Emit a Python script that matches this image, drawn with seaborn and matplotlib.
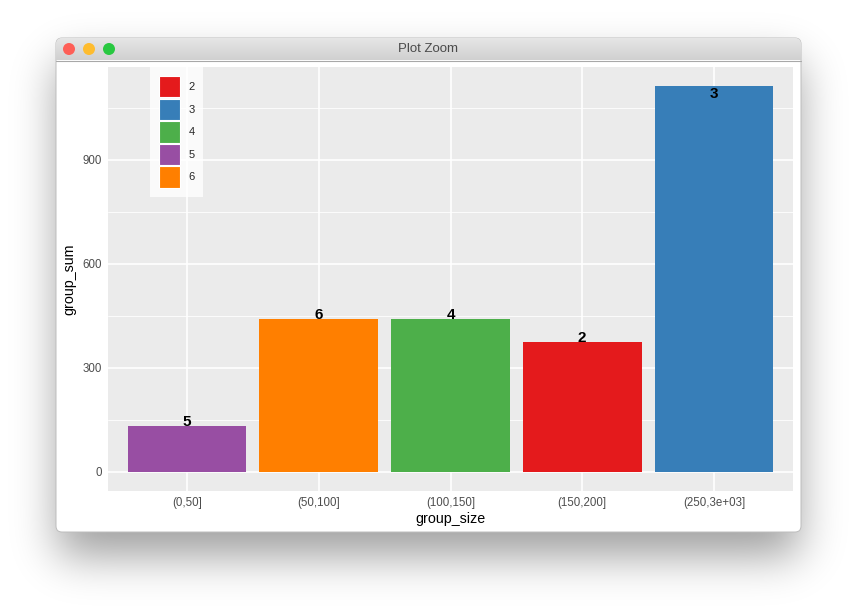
import numpy as np
import pandas as pd
import matplotlib
matplotlib.use("Agg")
import matplotlib.pyplot as plt
from matplotlib.colors import LinearSegmentedColormap
from matplotlib.patches import FancyBboxPatch, Circle, Patch
import seaborn as sns

# data
group_size = ["(0,50]", "(50,100]", "(100,150]", "(150,200]", "(250,3e+03]"]
group_sum = [133, 441, 441, 375, 1112]
group_id = ["5", "6", "4", "2", "3"]
label_y = [133, 441, 441, 375, 1078]

legend_ids = ["2", "3", "4", "5", "6"]
set1 = ["#E41A1C", "#377EB8", "#4DAF4A", "#984EA3", "#FF7F00"]
palette = dict(zip(legend_ids, set1))

df = pd.DataFrame({"group_size": group_size, "group_sum": group_sum, "id": group_id})

sns.set_theme(style="white")
plt.rcParams["font.family"] = ["Liberation Sans", "DejaVu Sans"]

W, H = 857, 607
fig = plt.figure(figsize=(W / 100, H / 100), dpi=100)
fig.patch.set_facecolor("white")

# ---- macOS window frame ----
bg = fig.add_axes([0, 0, 1, 1])
bg.set_xlim(0, W)
bg.set_ylim(H, 0)
bg.axis("off")

wx0, wy0, ww, wh = 56, 38, 745, 494

# soft drop shadow: blurred rectangle
mask = np.zeros((H, W))
mask[wy0 + 24:wy0 + wh + 24, wx0 + 2:wx0 + ww - 2] = 1.0
sigma = 22
k = np.exp(-0.5 * (np.arange(-3 * sigma, 3 * sigma + 1) / sigma) ** 2)
k /= k.sum()
blur = np.apply_along_axis(lambda r: np.convolve(r, k, mode="same"), 1, mask)
blur = np.apply_along_axis(lambda c: np.convolve(c, k, mode="same"), 0, blur)
shadow = np.zeros((H, W, 4))
shadow[..., 3] = blur * 0.38
bg.imshow(shadow, extent=(0, W, H, 0), aspect="auto", zorder=0, interpolation="bilinear")

win = FancyBboxPatch((wx0, wy0), ww, wh, boxstyle="round,pad=0,rounding_size=6",
                     fc="white", ec="#BDBDBD", lw=0.7, zorder=1)
bg.add_patch(win)
grad = np.linspace(0, 1, 50).reshape(-1, 1)
img = bg.imshow(grad, extent=(wx0, wx0 + ww, 60, wy0),
                cmap=LinearSegmentedColormap.from_list("tb", ["#E6E6E6", "#D0D0D0"]),
                aspect="auto", zorder=2)
img.set_clip_path(win)
bg.plot([wx0, wx0 + ww], [60.5, 60.5], color="#A8A8A8", lw=0.8, zorder=3)
for cx, c in zip([69, 89, 109], ["#FE5F57", "#FEBC2E", "#28C840"]):
    bg.add_patch(Circle((cx, 49), 6, fc=c, ec="none", zorder=4))
bg.text(428, 49, "Plot Zoom", ha="center", va="center", fontsize=9.5, color="#4A4A4A", zorder=4)

# ---- the plot ----
ax = fig.add_axes([108 / W, 1 - 491 / H, 685 / W, 424 / H])
sns.barplot(data=df, x="group_size", y="group_sum", hue="id", hue_order=legend_ids,
            palette=palette, dodge=False, width=0.9, saturation=1, legend=False,
            linewidth=0, ax=ax, zorder=3)

for i, (lbl, y) in enumerate(zip(group_id, label_y)):
    ax.text(i, y, lbl, ha="center", va="baseline", fontsize=11, fontweight="bold",
            color="black", zorder=5)

ax.set_facecolor("#EBEBEB")
for s in ax.spines.values():
    s.set_visible(False)
ax.set_xlim(-0.6, 4.6)
ax.set_ylim(-55.6, 1167.6)
ax.set_yticks([0, 300, 600, 900])
ax.set_yticks([150, 450, 750, 1050], minor=True)
ax.grid(True, which="major", color="white", lw=1.2, zorder=0)
ax.grid(True, which="minor", axis="y", color="white", lw=0.6, zorder=0)
ax.set_axisbelow(True)
ax.tick_params(axis="both", which="major", length=2.5, width=0.8, color="#333333",
               labelsize=8.3, labelcolor="#4D4D4D", pad=2)
ax.tick_params(axis="y", which="minor", length=0)
ax.set_xlabel("group_size", fontsize=10.3, color="black", labelpad=2)
ax.set_ylabel("group_sum", fontsize=10.3, color="black", labelpad=4)

handles = [Patch(fc=palette[k], ec="white", lw=0.8) for k in legend_ids]
leg = ax.legend(handles, legend_ids, loc="upper left", bbox_to_anchor=(42 / 685, 1.0),
                borderaxespad=0, frameon=True, fancybox=False, fontsize=8,
                handlelength=1.9, handleheight=2.6, labelspacing=0.1,
                handletextpad=0.75, borderpad=0.8)
leg.get_frame().set_facecolor("white")
leg.get_frame().set_edgecolor("none")
leg.set_zorder(6)

fig.savefig("out.png", dpi=100)
